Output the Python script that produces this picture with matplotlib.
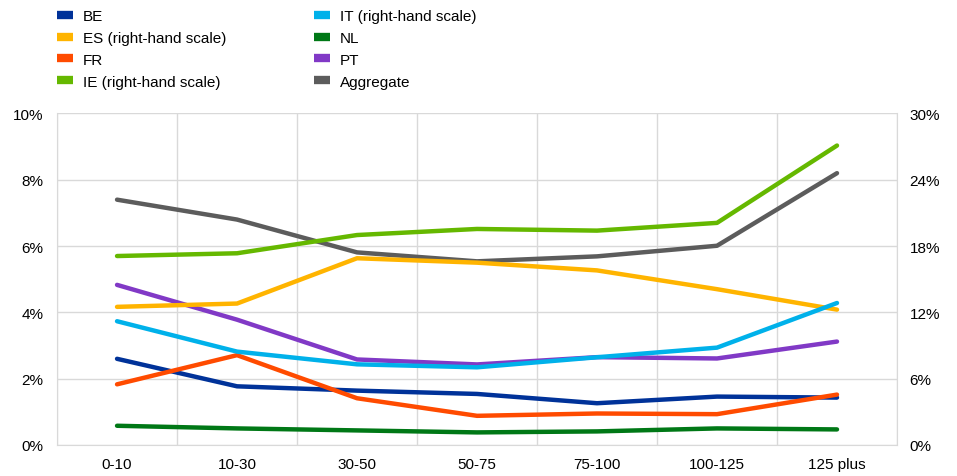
import matplotlib
matplotlib.use('Agg')
import matplotlib.pyplot as plt
import numpy as np
from matplotlib.ticker import FuncFormatter
from matplotlib.lines import Line2D

plt.rcParams['font.family'] = ['Liberation Sans', 'DejaVu Sans']

categories = ["0-10", "10-30", "30-50", "50-75", "75-100", "100-125", "125 plus"]

# left-hand scale (%)
be = [2.60, 1.77, 1.64, 1.54, 1.26, 1.46, 1.43]
fr = [1.83, 2.71, 1.41, 0.88, 0.95, 0.93, 1.52]
nl = [0.58, 0.50, 0.44, 0.38, 0.41, 0.50, 0.47]
pt = [4.83, 3.78, 2.58, 2.43, 2.65, 2.61, 3.12]
aggregate = [7.40, 6.80, 5.81, 5.54, 5.69, 6.01, 8.20]

# right-hand scale (%)
es = [12.5, 12.8, 16.9, 16.5, 15.8, 14.1, 12.25]
ie = [17.1, 17.35, 19.0, 19.55, 19.4, 20.1, 27.1]
it = [11.2, 8.45, 7.3, 7.03, 7.94, 8.81, 12.85]

COLORS = {
    "BE": "#003299",
    "ES": "#FFB400",
    "FR": "#FF4B00",
    "IE": "#65B800",
    "IT": "#00B1EA",
    "NL": "#007816",
    "PT": "#8139C6",
    "Aggregate": "#5C5C5C",
}

fig = plt.figure(figsize=(9.57, 4.77), dpi=100)
ax = fig.add_axes([0.0596, 0.065, 0.8777, 0.695])
ax2 = ax.twinx()

x = np.arange(len(categories))
lw = 3.2

lines = {}
lines["BE"], = ax.plot(x, be, color=COLORS["BE"], lw=lw, solid_capstyle='round', label="BE")
lines["FR"], = ax.plot(x, fr, color=COLORS["FR"], lw=lw, solid_capstyle='round', label="FR")
lines["NL"], = ax.plot(x, nl, color=COLORS["NL"], lw=lw, solid_capstyle='round', label="NL")
lines["PT"], = ax.plot(x, pt, color=COLORS["PT"], lw=lw, solid_capstyle='round', label="PT")
lines["Aggregate"], = ax.plot(x, aggregate, color=COLORS["Aggregate"], lw=lw,
                              solid_capstyle='round', label="Aggregate")
lines["ES"], = ax2.plot(x, es, color=COLORS["ES"], lw=lw, solid_capstyle='round',
                        label="ES (right-hand scale)")
lines["IE"], = ax2.plot(x, ie, color=COLORS["IE"], lw=lw, solid_capstyle='round',
                        label="IE (right-hand scale)")
lines["IT"], = ax2.plot(x, it, color=COLORS["IT"], lw=lw, solid_capstyle='round',
                        label="IT (right-hand scale)")

ax.set_xlim(-0.5, len(categories) - 0.5)
ax.set_ylim(0, 10)
ax2.set_ylim(0, 30)
ax.set_yticks(np.arange(0, 11, 2))
ax2.set_yticks(np.arange(0, 31, 6))
ax.yaxis.set_major_formatter(FuncFormatter(lambda v, p: "%d%%" % v))
ax2.yaxis.set_major_formatter(FuncFormatter(lambda v, p: "%d%%" % v))

ax.set_xticks(x)
ax.set_xticklabels(categories)
ax.set_xticks(np.arange(-0.5, len(categories), 1), minor=True)
ax.grid(True, which='minor', axis='x', color='#d9d9d9', lw=1)
ax.grid(True, which='major', axis='y', color='#d9d9d9', lw=1)
ax.set_axisbelow(True)

for a in (ax, ax2):
    a.tick_params(which='both', length=0, labelsize=11, colors='#000000')
    for s in a.spines.values():
        s.set_visible(False)
ax.tick_params(axis='y', pad=10)
ax2.tick_params(axis='y', pad=9)
ax.tick_params(axis='x', pad=9)
for side in ('bottom', 'left', 'right'):
    ax.spines[side].set_visible(True)
    ax.spines[side].set_color('#d9d9d9')

order = ["BE", "ES", "FR", "IE", "IT", "NL", "PT", "Aggregate"]
handles = [lines[k] for k in order]
leg_handles = [Line2D([], [], color=h.get_color(), lw=6, solid_capstyle='butt') for h in handles]
fig.legend(leg_handles, [h.get_label() for h in handles], ncol=2, loc='upper left',
           bbox_to_anchor=(0.045, 1.008), frameon=False, fontsize=11,
           handlelength=1.05, handletextpad=0.65, columnspacing=5.75, labelspacing=0.52)

fig.savefig("out.png", dpi=100)
